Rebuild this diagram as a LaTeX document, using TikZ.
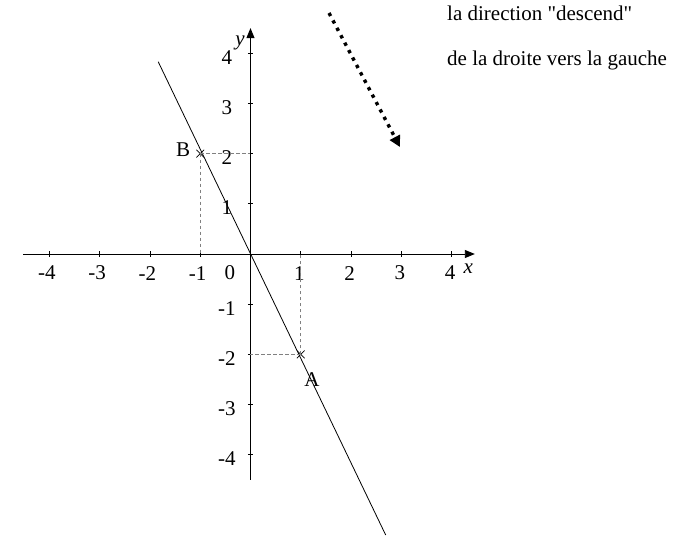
\documentclass[tikz,border=0pt]{standalone}
\usepackage{fontspec}
\setmainfont{Liberation Serif}
\newfontfamily\plainserif{Liberation Serif}
\usetikzlibrary{arrows.meta,shapes.misc}
\begin{document}
\begin{tikzpicture}[x=50.3pt,y=50.2pt,
  font=\fontsize{21}{24}\selectfont,
  axis/.style={line width=0.9pt,-{Triangle[length=10pt,width=8pt]}},
  tick/.style={line width=0.7pt},
  lbl/.style={inner sep=0pt,anchor=center},
  guide/.style={gray,line width=0.7pt,dash pattern=on 3.5pt off 2.5pt},
  pt/.style={cross out,draw,line width=0.7pt,minimum size=7pt,inner sep=0pt},
  txt/.style={inner sep=0pt,anchor=base west,font=\fontsize{21}{24}\selectfont\plainserif},
  dotarrow/.style={line width=3.4pt,dash pattern=on 3.4pt off 5pt,
    -{Triangle[length=11pt,width=11pt]}}]
\useasboundingbox (-4.98,-5.618) rectangle (8.718,5.06);
\coordinate (O) at (0,0);
\coordinate (xl) at (-4.52,0);
\coordinate (xr) at (4.46,0);
\coordinate (yb) at (0,-4.5);
\coordinate (yt) at (0,4.5);
% axes
\draw[axis] (xl) -- (xr);
\draw[axis] (yb) -- (yt);
% ticks
\foreach \i in {-4,-3,-2,-1,1,2,3,4}{
  \draw[tick] (\i,-0.05) -- (\i,0.05);
  \draw[tick] (-0.05,\i) -- (0.05,\i);
}
% tick labels
\foreach \i in {-4,-3,-2,-1}{
  \node[lbl] (xt\i) at (\i-0.05,-0.38) {\i};
}
\foreach \i in {1,2,3,4}{
  \node[lbl] (xt\i) at (\i-0.03,-0.38) {\i};
}
\node[lbl] (zero) at (-0.41,-0.38) {0};
\foreach \j in {-4,-3,-2,-1,1,2,3,4}{
  \node[lbl] (yt\j) at (-0.47,\j-0.08) {\j};
}
\node[lbl] (xlab) at (4.33,-0.3) {\itshape x};
\node[lbl] (ylab) at (-0.21,4.2) {\itshape y};
% the line
\coordinate (Ltop) at (-1.835,3.831);
\coordinate (Lbot) at (2.688,-5.598);
\draw[line width=0.8pt] (Ltop) -- (Lbot);
% points
\node[pt] (B) at (-1,2) {};
\node[pt] (A) at (1,-2) {};
\draw[guide] (B.center) -- (B.center |- O);
\draw[guide] (B.center) -- (O |- B.center);
\draw[guide] (A.center) -- (A.center |- O);
\draw[guide] (A.center) -- (O |- A.center);
\node[lbl] (Blab) at (-1.34,2.07) {B};
\node[lbl] (Alab) at (1.22,-2.51) {A};
% dotted arrow
\coordinate (d1) at (1.561,4.801);
\coordinate (d2) at (2.972,2.131);
\draw[dotarrow] (d1) -- (d2);
% text
\node[txt] (t1) at (3.907,4.661) {la direction "descend"};
\node[txt] (t2) at (3.907,3.751) {de la droite vers la gauche};
\end{tikzpicture}
\end{document}
